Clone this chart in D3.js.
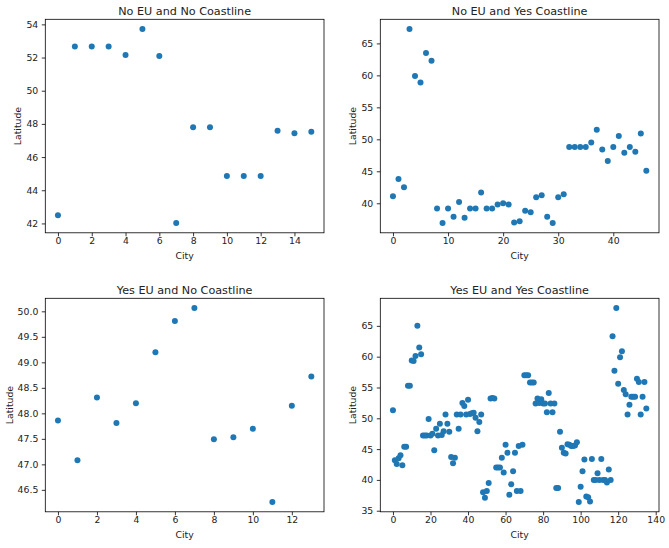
<!DOCTYPE html>
<html><head><meta charset="utf-8">
<script src="https://cdn.jsdelivr.net/npm/d3@7"></script>
<style>body{margin:0;background:#fff} text{font-family:"DejaVu Sans",sans-serif}</style>
</head><body><svg id="c" width="669" height="548"></svg>
<script>
// ---- data ----
const titles = ["No EU and No Coastline", "No EU and Yes Coastline", "Yes EU and No Coastline", "Yes EU and Yes Coastline"];
const xLabel = "City";
const yLabel = "Latitude";

const latNoEuNoCoast = [42.5, 52.67, 52.67, 52.67, 52.15, 53.72, 52.1, 42.02, 47.8, 47.8, 44.86, 44.86, 44.86, 47.59, 47.43, 47.53];
const latNoEuYesCoast = [41.1, 43.8, 42.5, 67.25, 59.9, 58.9, 63.5, 62.3, 39.2, 36.9, 39.2, 37.9, 40.2, 37.75, 39.2, 39.2, 41.7, 39.2, 39.2, 39.8, 40.0, 39.8, 37.0, 37.2, 38.85, 38.6, 40.95, 41.25, 37.9, 36.9, 40.95, 41.4, 48.8, 48.8, 48.8, 48.8, 49.5, 51.5, 48.4, 46.6, 48.8, 50.5, 47.9, 48.8, 48.05, 50.9, 45.1];
const latYesEuNoCoast = [47.86, 47.08, 48.31, 47.81, 48.2, 49.2, 49.81, 50.065, 47.49, 47.53, 47.7, 46.26, 48.15, 48.72];
const latYesEuYesCoast = [
  51.3, 43.2, 42.6, 43.5, 44.0, 42.4, 45.4, 45.4, 55.3, 55.3,
  59.4, 59.3, 60.1, 65.0, 61.5, 60.4, 47.2, 47.2, 47.2, 49.9,
  47.2, 47.5, 44.8, 48.3, 47.2, 49.1, 47.3, 47.9, 50.6, 49.1,
  47.8, 43.7, 42.7, 43.6, 50.6, 48.3, 50.6, 52.5, 52.0, 50.6,
  53.0, 50.7, 50.8, 50.9, 50.1, 47.9, 49.4, 50.6, 38.0, 37.1,
  38.2, 39.5, 53.2, 53.3, 53.2, 42.0, 42.0, 42.0, 43.6, 41.2,
  45.7, 44.4, 37.6, 39.3, 41.4, 44.4, 38.2, 45.5, 38.2, 45.7,
  57.0, 57.0, 57.0, 55.8, 55.8, 55.8, 52.4, 53.2, 52.5, 53.1,
  52.4, 52.4, 51.0, 54.1, 52.4, 51.0, 52.4, 38.7, 38.7, 47.8,
  45.2, 44.4, 44.3, 45.8, 45.7, 45.5, 45.5, 45.6, 46.1, 36.4,
  38.9, 41.4, 43.3, 37.3, 37.2, 36.5, 43.4, 40.0, 40.0, 41.1,
  40.0, 43.4, 40.0, 40.0, 39.6, 41.7, 40.0, 63.3, 57.7, 67.9,
  55.6, 59.9, 60.9, 54.6, 53.9, 50.6, 52.2, 53.5, 53.5, 53.5,
  56.4, 55.9, 50.6, 53.5, 55.9, 51.6];

const xTicksNoEuNoCoast = [0, 2, 4, 6, 8, 10, 12, 14];
const yTicksNoEuNoCoast = [42, 44, 46, 48, 50, 52, 54];
const xTicksNoEuYesCoast = [0, 10, 20, 30, 40];
const yTicksNoEuYesCoast = [40, 45, 50, 55, 60, 65];
const xTicksYesEuNoCoast = [0, 2, 4, 6, 8, 10, 12];
const yTicksYesEuNoCoast = [46.5, 47.0, 47.5, 48.0, 48.5, 49.0, 49.5, 50.0];
const xTicksYesEuYesCoast = [0, 20, 40, 60, 80, 100, 120, 140];
const yTicksYesEuYesCoast = [35, 40, 45, 50, 55, 60, 65];

// ---- layout ----
const svg = d3.select("#c");
const panels = [
  {title: titles[0], lat: latNoEuNoCoast, xt: xTicksNoEuNoCoast, yt: yTicksNoEuNoCoast, yf: d3.format("d"), x0: 45.3, y0: 19.3, ylOff: 28},
  {title: titles[1], lat: latNoEuYesCoast, xt: xTicksNoEuYesCoast, yt: yTicksNoEuYesCoast, yf: d3.format("d"), x0: 380.3, y0: 19.3, ylOff: 28},
  {title: titles[2], lat: latYesEuNoCoast, xt: xTicksYesEuNoCoast, yt: yTicksYesEuNoCoast, yf: d3.format(".1f"), x0: 45.3, y0: 298.3, ylOff: 36},
  {title: titles[3], lat: latYesEuYesCoast, xt: xTicksYesEuYesCoast, yt: yTicksYesEuYesCoast, yf: d3.format("d"), x0: 380.3, y0: 298.3, ylOff: 28}
];
const W = 278.7, H = 213.5;
const col = "#1f77b4", txt = "#222";

function padExtent(e) { const r = e[1] - e[0]; return [e[0] - 0.05 * r, e[1] + 0.05 * r]; }

panels.forEach(p => {
  const g = svg.append("g").attr("transform", `translate(${p.x0},${p.y0})`);
  const idx = p.lat.map((d, i) => i);
  const x = d3.scaleLinear().domain(padExtent([0, p.lat.length - 1])).range([0, W]);
  const y = d3.scaleLinear().domain(padExtent(d3.extent(p.lat))).range([H, 0]);

  const xa = g.append("g").attr("transform", `translate(0,${H})`)
    .call(d3.axisBottom(x).tickValues(p.xt).tickFormat(d3.format("d")).tickSizeOuter(0).tickSize(3.5).tickPadding(1.2));
  const ya = g.append("g")
    .call(d3.axisLeft(y).tickValues(p.yt).tickFormat(p.yf).tickSizeOuter(0).tickSize(3.5).tickPadding(3.5));
  [xa, ya].forEach(a => {
    a.select(".domain").remove();
    a.selectAll("line").attr("stroke", "#000").attr("stroke-width", 0.8);
    a.selectAll("text").attr("fill", txt).style("font-size", "9.3px").style("font-family", '"DejaVu Sans", sans-serif');
  });

  g.append("g").selectAll("circle").data(idx).join("circle")
    .attr("cx", i => x(i)).attr("cy", i => y(p.lat[i])).attr("r", 3).attr("fill", col);

  g.append("rect").attr("width", W).attr("height", H).attr("fill", "none").attr("stroke", "#000").attr("stroke-width", 0.8);

  g.append("text").attr("x", W / 2).attr("y", -4.5).attr("text-anchor", "middle")
    .attr("fill", txt).style("font-size", "11.2px").text(p.title);
  g.append("text").attr("x", W / 2).attr("y", H + 26).attr("text-anchor", "middle")
    .attr("fill", txt).style("font-size", "9.3px").text(xLabel);
  g.append("text").attr("transform", `translate(${-p.ylOff},${H / 2}) rotate(-90)`).attr("text-anchor", "middle")
    .attr("dy", "0.35em").attr("fill", txt).style("font-size", "9.3px").text(yLabel);
});
</script></body></html>
